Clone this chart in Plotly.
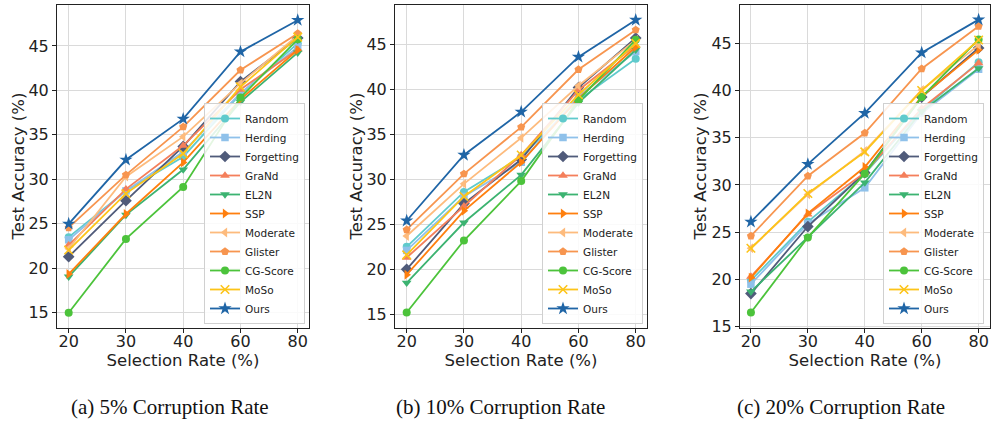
import plotly.graph_objects as go

rates = ["20", "30", "40", "60", "80"]
methods = ["Random", "Herding", "Forgetting", "GraNd", "EL2N", "SSP",
           "Moderate", "Glister", "CG-Score", "MoSo", "Ours"]
y_ticks = [15, 20, 25, 30, 35, 40, 45]
captions = ["(a) 5% Corruption Rate", "(b) 10% Corruption Rate", "(c) 20% Corruption Rate"]

acc_5 = {
    "Random":     [23.5, 28.7, 32.55, 39.6, 45.3],
    "Herding":    [23.2, 28.7, 33.1, 39.7, 44.9],
    "Forgetting": [21.3, 27.6, 33.7, 41.0, 45.9],
    "GraNd":      [22.6, 28.9, 33.8, 40.1, 44.6],
    "EL2N":       [19.05, 26.0, 31.1, 38.7, 44.25],
    "SSP":        [19.35, 26.1, 31.9, 39.0, 44.55],
    "Moderate":   [22.2, 30.3, 34.8, 40.8, 46.2],
    "Glister":    [24.56, 30.5, 35.9, 42.3, 46.4],
    "CG-Score":   [15.0, 23.3, 29.15, 39.2, 45.75],
    "MoSo":       [22.05, 28.4, 32.9, 40.4, 46.0],
    "Ours":       [25.0, 32.2, 36.8, 44.36, 47.9],
}
acc_10 = {
    "Random":     [22.5, 28.6, 32.5, 38.8, 43.4],
    "Herding":    [22.1, 28.1, 31.9, 39.2, 44.2],
    "Forgetting": [20.0, 27.3, 32.2, 40.2, 45.7],
    "GraNd":      [21.3, 27.0, 32.7, 39.9, 44.9],
    "EL2N":       [18.5, 25.2, 30.5, 38.5, 44.4],
    "SSP":        [19.4, 26.5, 31.9, 39.0, 44.7],
    "Moderate":   [23.7, 29.5, 34.6, 40.4, 45.5],
    "Glister":    [24.4, 30.6, 35.8, 42.2, 46.6],
    "CG-Score":   [15.2, 23.2, 29.8, 38.8, 45.5],
    "MoSo":       [21.6, 28.1, 32.7, 39.4, 45.1],
    "Ours":       [25.4, 32.7, 37.5, 43.6, 47.7],
}
acc_20 = {
    "Random":     [19.9, 26.1, 31.2, 37.9, 43.0],
    "Herding":    [19.5, 25.9, 29.7, 37.6, 42.25],
    "Forgetting": [18.5, 25.6, 31.3, 39.3, 44.5],
    "GraNd":      [20.3, 26.9, 31.3, 38.1, 42.9],
    "EL2N":       [18.7, 24.45, 30.25, 37.8, 42.35],
    "SSP":        [20.2, 27.0, 31.9, 39.35, 44.3],
    "Moderate":   [23.3, 29.0, 33.6, 40.05, 44.8],
    "Glister":    [24.6, 30.95, 35.5, 42.3, 46.8],
    "CG-Score":   [16.5, 24.45, 31.2, 39.3, 45.4],
    "MoSo":       [23.3, 29.1, 33.5, 40.0, 45.35],
    "Ours":       [26.1, 32.2, 37.6, 44.0, 47.5],
}
panels = [acc_5, acc_10, acc_20]

colors = {
    "Random": "#5fcacc", "Herding": "#8fc1ea", "Forgetting": "#505b7a",
    "GraNd": "#f47f5b", "EL2N": "#3cb371", "SSP": "#ff7f0e",
    "Moderate": "#fdbb7d", "Glister": "#f7954f", "CG-Score": "#4cc33b",
    "MoSo": "#fcc419", "Ours": "#1f65a6",
}
symbols = {
    "Random": "circle", "Herding": "square", "Forgetting": "diamond",
    "GraNd": "triangle-up", "EL2N": "triangle-down", "SSP": "triangle-right",
    "Moderate": "triangle-left", "Glister": "pentagon", "CG-Score": "circle",
    "MoSo": "x-thin-open", "Ours": "star",
}
sizes = {"Random": 8, "Herding": 7.5, "Forgetting": 9, "GraNd": 8.5, "EL2N": 8.5,
         "SSP": 8.5, "Moderate": 8.5, "Glister": 8.5, "CG-Score": 8,
         "MoSo": 8.5, "Ours": 10}

W, H = 993, 421
x_px = [(57, 309), (395, 647), (740, 990)]
y_px = (5, 328)
y_ranges = [(13.28, 49.61), (13.48, 49.37), (14.86, 49.05)]
x_ranges = [(-0.204, 4.197), (-0.204, 4.197), (-0.192, 4.2)]
legend_right_px = [305, 643, 984]
ytitle_x_px = [18, 356, 700]
caption_x_px = [170, 500, 841]

fig = go.Figure()
legend_names = ["legend", "legend2", "legend3"]

for i, data in enumerate(panels):
    xa = "x" if i == 0 else f"x{i+1}"
    ya = "y" if i == 0 else f"y{i+1}"
    for m in methods:
        sym = symbols[m]
        marker = dict(symbol=sym, size=sizes[m], color=colors[m])
        if sym == "x-thin-open":
            marker["line"] = dict(width=1.6, color=colors[m])
        fig.add_trace(go.Scatter(
            x=rates, y=data[m], name=m, mode="lines+markers",
            line=dict(color=colors[m], width=1.8),
            marker=marker, xaxis=xa, yaxis=ya,
            legend=legend_names[i], showlegend=True,
        ))

layout = dict(
    width=W, height=H, margin=dict(l=0, r=0, t=0, b=0),
    paper_bgcolor="white", plot_bgcolor="white",
    font=dict(family="DejaVu Sans", size=16, color="#222"),
    showlegend=True,
)
axis_common = dict(
    showline=True, linecolor="#222", linewidth=1, mirror=True,
    showgrid=True, gridcolor="#dadada", gridwidth=1,
    ticks="outside", ticklen=4, tickcolor="#222",
    tickfont=dict(family="DejaVu Sans", size=16, color="#222"),
    zeroline=False, automargin=False,
)
for i in range(3):
    sx = "" if i == 0 else str(i + 1)
    x0, x1 = x_px[i]
    layout[f"xaxis{sx}"] = dict(
        axis_common, type="category", range=list(x_ranges[i]),
        domain=[x0 / W, x1 / W], anchor=f"y{sx}",
        title=dict(text="Selection Rate (%)", font=dict(size=16.5), standoff=0),
    )
    layout[f"yaxis{sx}"] = dict(
        axis_common, range=list(y_ranges[i]), tickvals=y_ticks,
        domain=[1 - y_px[1] / H, 1 - y_px[0] / H], anchor=f"x{sx}",
    )
    leg = dict(
        x=legend_right_px[i] / W, y=1 - 324 / H, xanchor="right", yanchor="bottom",
        bgcolor="rgba(255,255,255,0.85)", bordercolor="#d0d0d0", borderwidth=1,
        font=dict(family="DejaVu Sans", size=10.5, color="#222"),
        itemwidth=30, tracegroupgap=0,
    )
    layout[legend_names[i]] = leg

fig.update_layout(**layout)
try:
    fig.update_xaxes(ticklabelstandoff=-5)
except Exception:
    pass

annotations = []
for i in range(3):
    annotations.append(dict(
        text="Test Accuracy (%)", textangle=-90, xref="paper", yref="paper",
        x=ytitle_x_px[i] / W, y=1 - ((y_px[0] + y_px[1]) / 2) / H,
        showarrow=False, font=dict(family="DejaVu Sans", size=16.5, color="#222"),
        xanchor="center", yanchor="middle",
    ))
    annotations.append(dict(
        text=captions[i], xref="paper", yref="paper",
        x=caption_x_px[i] / W, y=1 - 407 / H,
        showarrow=False, font=dict(family="Liberation Serif", size=21, color="#111"),
        xanchor="center", yanchor="middle",
    ))
fig.update_layout(annotations=annotations)

fig.write_html(
    "out.html",
    config={"displayModeBar": False},
    post_script="document.body.style.margin='0';document.body.style.overflow='hidden';",
)
